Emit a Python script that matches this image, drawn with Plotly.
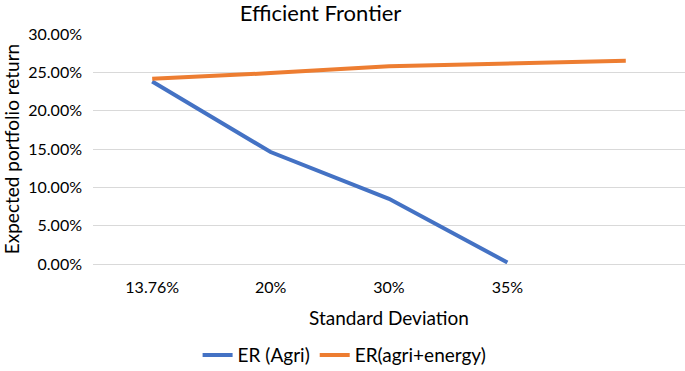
import plotly.graph_objects as go

categories = ["13.76%", "20%", "30%", "35%", " "]
er_agri = [0.238, 0.146, 0.085, 0.002, None]
er_agri_energy = [0.2415, 0.249, 0.258, 0.2615, 0.265]
y_ticks = [0, 0.05, 0.10, 0.15, 0.20, 0.25, 0.30]

FONT = "Lato, Open Sans, sans-serif"

fig = go.Figure()
fig.add_trace(go.Scatter(x=categories, y=er_agri, mode="lines", name="ER (Agri)",
                         line=dict(color="#4472C4", width=4)))
fig.add_trace(go.Scatter(x=categories, y=er_agri_energy, mode="lines", name="ER(agri+energy)",
                         line=dict(color="#ED7D31", width=4)))

fig.update_layout(
    width=685, height=371,
    margin=dict(l=93, r=0, t=34, b=107, autoexpand=False),
    paper_bgcolor="white", plot_bgcolor="white",
    font=dict(family=FONT, size=16, color="#000000"),
    title=dict(text="Efficient Frontier", x=0.468, xanchor="center", y=0.965, yanchor="middle",
               font=dict(size=22, family=FONT, color="#000000")),
    xaxis=dict(type="category", categoryorder="array", categoryarray=categories,
               range=[-0.5, 4.5], showgrid=False, showline=False, ticks="",
               automargin=False, ticklabelstandoff=12,
               tickfont=dict(size=16), title=dict(text="Standard Deviation", font=dict(size=19), standoff=16)),
    yaxis=dict(range=[0, 0.30], tickvals=y_ticks, tickformat=".2%", showgrid=True,
               gridcolor="#D9D9D9", gridwidth=1, zeroline=True, zerolinecolor="#D9D9D9",
               zerolinewidth=1, showline=False, ticks="", tickfont=dict(size=16),
               automargin=False, ticklabelstandoff=10,
               title=dict(text="Expected portfolio return", font=dict(size=19), standoff=8)),
    legend=dict(orientation="h", x=0.425, xanchor="center", y=-0.396, yanchor="middle",
                font=dict(size=19), traceorder="normal", itemwidth=30),
    showlegend=True,
)

fig.write_html("out.html", config={"displayModeBar": False},
               post_script="document.body.style.margin='0px';document.body.style.overflow='hidden';")
